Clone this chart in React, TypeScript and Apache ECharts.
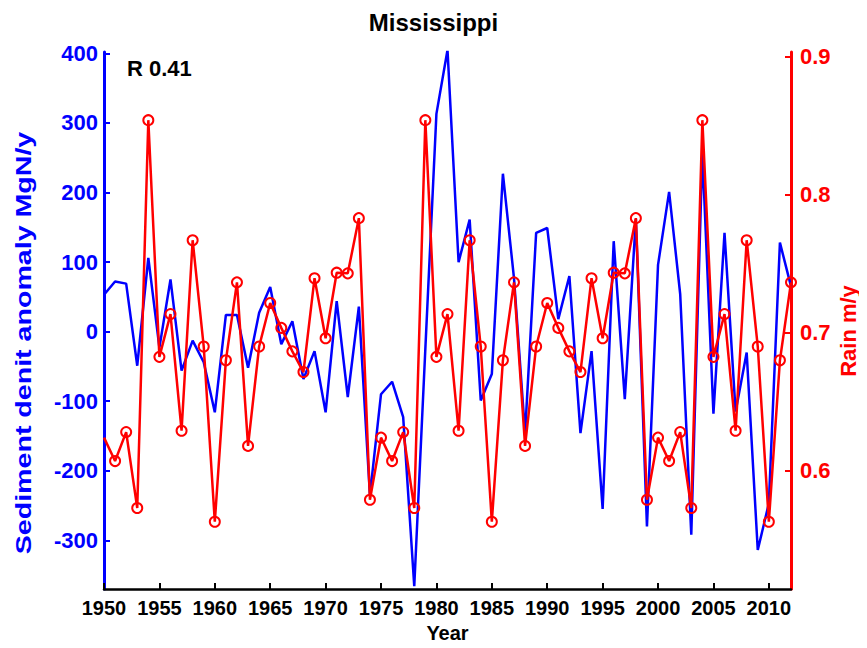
import React, { useEffect, useRef } from "react";
import * as echarts from "echarts";

const years = [
  1950, 1951, 1952, 1953, 1954, 1955, 1956, 1957, 1958, 1959,
  1960, 1961, 1962, 1963, 1964, 1965, 1966, 1967, 1968, 1969,
  1970, 1971, 1972, 1973, 1974, 1975, 1976, 1977, 1978, 1979,
  1980, 1981, 1982, 1983, 1984, 1985, 1986, 1987, 1988, 1989,
  1990, 1991, 1992, 1993, 1994, 1995, 1996, 1997, 1998, 1999,
  2000, 2001, 2002, 2003, 2004, 2005, 2006, 2007, 2008, 2009,
  2010, 2011, 2012,
];

const sediment = [
  53, 72, 69, -49, 106, -23, 75, -56, -13, -44,
  -116, 24, 24, -52, 27, 64, -18, 15, -68, -28,
  -116, 44, -94, 36, -235, -90, -72, -123, -366, -25,
  313, 405, 100, 161, -99, -61, 227, 77, -147, 142,
  149, 18, 80, -146, -28, -255, 130, -97, 162, -280,
  96, 201, 54, -292, 258, -118, 142, -115, -30, -314,
  -247, 128, 65,
];

const rain = [
  0.624, 0.607, 0.628, 0.573, 0.854, 0.6825, 0.7135, 0.629, 0.767, 0.69,
  0.563, 0.68, 0.7365, 0.618, 0.69, 0.7215, 0.7035, 0.6865, 0.6715, 0.7395,
  0.696, 0.7435, 0.743, 0.783, 0.579, 0.624, 0.607, 0.628, 0.573, 0.854,
  0.6825, 0.7135, 0.629, 0.767, 0.69, 0.563, 0.68, 0.7365, 0.618, 0.69,
  0.7215, 0.7035, 0.6865, 0.6715, 0.7395, 0.696, 0.7435, 0.743, 0.783, 0.579,
  0.624, 0.607, 0.628, 0.573, 0.854, 0.6825, 0.7135, 0.629, 0.767, 0.69,
  0.563, 0.68, 0.7365,
];

const xTicks = [1950, 1955, 1960, 1965, 1970, 1975, 1980, 1985, 1990, 1995, 2000, 2005, 2010];
const leftTicks = [-300, -200, -100, 0, 100, 200, 300, 400];
const rightTicks = [0.6, 0.7, 0.8, 0.9];

const FONT = "'Liberation Sans', Arial, Helvetica, sans-serif";

export default function App() {
  const ref = useRef<HTMLDivElement>(null);
  useEffect(() => {
    if (!ref.current) return;
    const chart = echarts.init(ref.current, null, { renderer: "svg" });
    chart.setOption({
      animation: false,
      backgroundColor: "#ffffff",
      title: {
        text: "Mississippi",
        left: "center",
        top: 5,
        textStyle: { fontFamily: FONT, fontWeight: "bold", fontSize: 24, color: "#000" },
      },
      grid: { left: 104, right: 76, top: 52, bottom: 56, containLabel: false },
      xAxis: {
        type: "value",
        min: 1950,
        max: 2012,
        name: "Year",
        nameLocation: "middle",
        nameGap: 34,
        nameTextStyle: { fontFamily: FONT, fontWeight: "bold", fontSize: 20, color: "#000" },
        axisLine: { show: true, onZero: false, lineStyle: { color: "#000", width: 2.5 } },
        axisTick: { show: true, inside: true, length: 6, customValues: xTicks, lineStyle: { color: "#000", width: 2 } },
        axisLabel: {
          customValues: xTicks,
          fontFamily: FONT,
          fontWeight: "bold",
          fontSize: 20,
          color: "#000",
          margin: 9,
          formatter: (v: number) => String(v),
        },
        splitLine: { show: false },
      },
      yAxis: [
        {
          type: "value",
          min: -370,
          max: 402,
          position: "left",
          axisLine: { show: true, onZero: false, lineStyle: { color: "#0000ff", width: 3 } },
          axisTick: { show: true, inside: true, length: 6, customValues: leftTicks, lineStyle: { color: "#0000ff", width: 2 } },
          axisLabel: {
            customValues: leftTicks,
            fontFamily: FONT,
            fontWeight: "bold",
            fontSize: 22,
            color: "#0000ff",
            margin: 6,
          },
          splitLine: { show: false },
        },
        {
          type: "value",
          min: 0.5143,
          max: 0.9034,
          position: "right",
          axisLine: { show: true, onZero: false, lineStyle: { color: "#ff0000", width: 3 } },
          axisTick: { show: true, inside: true, length: 6, customValues: rightTicks, lineStyle: { color: "#ff0000", width: 2 } },
          axisLabel: {
            customValues: rightTicks,
            fontFamily: FONT,
            fontWeight: "bold",
            fontSize: 22,
            color: "#ff0000",
            margin: 9,
            formatter: (v: number) => v.toFixed(1),
          },
          splitLine: { show: false },
        },
      ],
      graphic: [
        {
          type: "text",
          left: 127,
          top: 57,
          style: { text: "R 0.41", fontFamily: FONT, fontWeight: "bold", fontSize: 22, fill: "#000" },
        },
        {
          type: "text",
          x: 23,
          y: 343,
          rotation: Math.PI / 2,
          scaleX: 1.3,
          style: {
            text: "Sediment denit anomaly MgN/y",
            fontFamily: FONT,
            fontWeight: "bold",
            fontSize: 22,
            fill: "#0000ff",
            align: "center",
            verticalAlign: "middle",
          },
        },
        {
          type: "text",
          x: 848,
          y: 331,
          rotation: Math.PI / 2,
          style: {
            text: "Rain m/y",
            fontFamily: FONT,
            fontWeight: "bold",
            fontSize: 22,
            fill: "#ff0000",
            align: "center",
            verticalAlign: "middle",
          },
        },
      ],
      series: [
        {
          type: "line",
          name: "Sediment",
          yAxisIndex: 0,
          data: years.map((y, i) => [y, sediment[i]]),
          showSymbol: false,
          symbol: "none",
          clip: true,
          lineStyle: { color: "#0000ff", width: 2.5 },
          itemStyle: { color: "#0000ff" },
          z: 2,
        },
        {
          type: "line",
          name: "Rain",
          yAxisIndex: 1,
          data: years.map((y, i) =>
            i === 0 ? { value: [y, rain[i]], symbol: "none" } : [y, rain[i]]
          ),
          symbol: "circle",
          symbolSize: 10,
          showSymbol: true,
          clip: false,
          lineStyle: { color: "#ff0000", width: 2.5 },
          itemStyle: { color: "rgba(255,255,255,0)", borderColor: "#ff0000", borderWidth: 2 },
          z: 3,
        },
      ],
    });
    return () => chart.dispose();
  }, []);
  return <div ref={ref} style={{ width: 867, height: 648, margin: -8 }} />;
}
